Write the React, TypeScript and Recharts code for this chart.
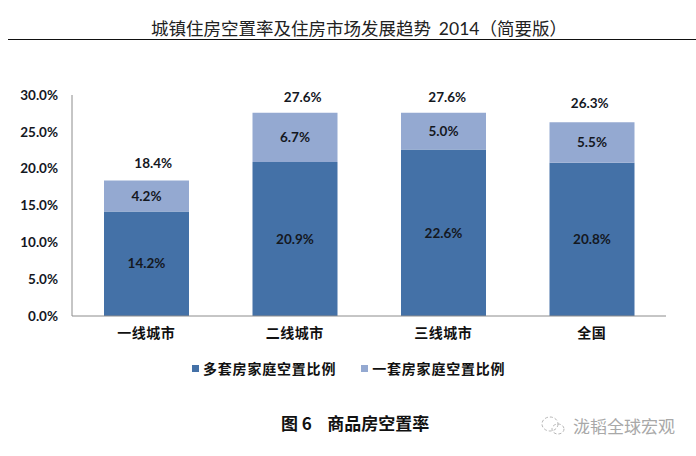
import React from 'react';
import { ComposedChart, Bar, Line, XAxis, YAxis, Legend, LabelList } from 'recharts';

const categories = ['一线城市', '二线城市', '三线城市', '全国'];
const multiHome = [14.2, 20.9, 22.6, 20.8];
const oneHome = [4.2, 6.7, 5.0, 5.5];
const totals = [18.4, 27.6, 27.6, 26.3];
const yTicks = [0, 5, 10, 15, 20, 25, 30];
const totalShiftX = [7, 8, 4, -2];
const totalShiftY = [-1, 0, 0, -3];

const rows = categories.map((name, i) => ({ name, multi: multiHome[i], one: oneHome[i], total: totals[i] }));
const pct = (v: number) => `${v.toFixed(1)}%`;

const LATIN = 'Lato, Carlito, "Open Sans", sans-serif';
const CJK = '"Noto Sans CJK SC", sans-serif';
const INK = '#14181f';
const NUM = 13.5;

const TotalLabel = (p: any) => (
  <text x={p.x + p.width / 2 + totalShiftX[p.index]} y={p.y - 11 + totalShiftY[p.index]} textAnchor="middle"
    fontFamily={LATIN} fontWeight={700} fontSize={NUM} fill={INK}>
    {pct(Number(p.value))}
  </text>
);

const CategoryTick = (p: any) => (
  <text x={p.x} y={p.y + 14} textAnchor="middle" fontFamily={CJK} fontWeight={700} fontSize={14} letterSpacing={0.5} fill="#111">
    {p.payload.value}
  </text>
);

const LegendBody = ({ payload }: any) => (
  <div style={{ display: 'flex', gap: 25, alignItems: 'center', fontFamily: CJK, fontWeight: 700, fontSize: 14, letterSpacing: 0.8, color: '#111', lineHeight: '18px', whiteSpace: 'nowrap' }}>
    {(payload || []).filter((item: any) => item.dataKey !== 'total').map((item: any) => (
      <div key={item.value} style={{ display: 'flex', alignItems: 'center', gap: 4 }}>
        <span style={{ width: 7, height: 7, background: item.color, display: 'inline-block' }} />
        <span>{item.value}</span>
      </div>
    ))}
  </div>
);

const abs = (left: number, top: number, extra: React.CSSProperties): React.CSSProperties => ({
  position: 'absolute', left, top, whiteSpace: 'nowrap', lineHeight: 1, ...extra,
});

export default function App() {
  return (
    <div style={{ position: 'absolute', left: 0, top: 0, width: 696, height: 456, background: '#fff', overflow: 'hidden' }}>
      <div style={abs(151, 19, { fontFamily: CJK, fontSize: 17.5, color: '#222' })}>
        城镇住房空置率及住房市场发展趋势&nbsp;&nbsp;<span style={{ fontFamily: LATIN }}>2014</span>（简要版）
      </div>
      <div style={{ position: 'absolute', left: 8, right: 0, top: 39, height: 1, background: '#111' }} />
      <ComposedChart width={696} height={456} data={rows} barSize={85}
        margin={{ top: 95, right: 30, bottom: 92, left: 0 }}>
        <XAxis dataKey="name" axisLine={{ stroke: '#8c8c8c' }} tickLine={false} tick={<CategoryTick />} interval={0} height={30} />
        <YAxis width={72} domain={[0, 30]} ticks={yTicks} tickFormatter={pct} axisLine={{ stroke: '#8c8c8c' }} tickLine={false}
          tickMargin={8} tick={{ fontFamily: LATIN, fontWeight: 700, fontSize: NUM, fill: INK }} />
        <Legend content={<LegendBody />} itemSorter={null as any} height={0}
          wrapperStyle={{ position: 'absolute', left: 192, top: 359, width: 330 }} />
        <Bar dataKey="multi" name="多套房家庭空置比例" stackId="a" fill="#4471a7" isAnimationActive={false}>
          <LabelList dataKey="multi" position="center" formatter={pct} fontFamily={LATIN} fontWeight={700} fontSize={NUM} fill={INK} />
        </Bar>
        <Bar dataKey="one" name="一套房家庭空置比例" stackId="a" fill="#94a9d1" isAnimationActive={false}>
          <LabelList dataKey="one" position="center" formatter={pct} fontFamily={LATIN} fontWeight={700} fontSize={NUM} fill={INK} />
        </Bar>
        <Line dataKey="total" stroke="none" dot={false} legendType="none" isAnimationActive={false}>
          <LabelList dataKey="total" content={<TotalLabel width={0} />} />
        </Line>
      </ComposedChart>
      <div style={abs(281, 414, { fontFamily: CJK, fontWeight: 700, fontSize: 17, color: '#111' })}>
        图&nbsp;6&nbsp;&nbsp;&nbsp;&nbsp;商品房空置率
      </div>
      <svg style={{ position: 'absolute', left: 539, top: 414 }} width={28} height={24}>
        <ellipse cx={11} cy={10} rx={8} ry={7} fill="none" stroke="#b5b5b5" strokeDasharray="3 2" />
        <ellipse cx={19} cy={15} rx={6} ry={5} fill="none" stroke="#b5b5b5" strokeDasharray="3 2" />
      </svg>
      <div style={abs(573, 417, { fontFamily: CJK, fontSize: 17, color: '#a8a8a8' })}>泷韬全球宏观</div>
    </div>
  );
}
